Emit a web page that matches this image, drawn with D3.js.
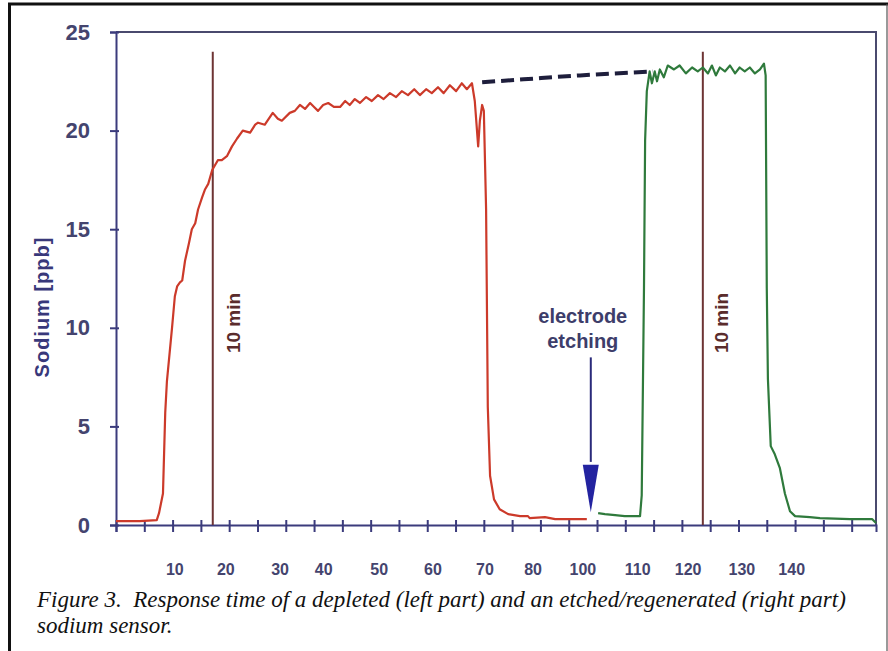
<!DOCTYPE html>
<html>
<head>
<meta charset="utf-8">
<script src="https://cdn.jsdelivr.net/npm/d3@7/dist/d3.min.js"></script>
<style>
  body { margin: 0; background: #fff; }
  svg { display: block; }
</style>
</head>
<body>
<div class="chart"></div>
<script>
// size
var w = 888;
var h = 651;

// axis values
const xTicks = d3.range(0, 131, 5);
const xLabels = ["10", "20", "30", "40", "50", "60", "70", "80", "100", "110", "120", "130", "140"];
const xLabelAt = [10.4, 19.4, 29.0, 36.7, 46.5, 56.0, 65.2, 73.7, 82.5, 92.2, 101.1, 110.6, 119.4];
const yTicks = [0, 5, 10, 15, 20, 25];

// depleted sensor (red) [time, ppb]
const depleted = [
  [0, 0.2], [4.2, 0.2], [7.2, 0.25], [7.6, 0.6], [8.3, 1.6], [8.7, 5.7], [9.0, 7.3],
  [9.9, 10.0], [10.4, 11.6], [10.8, 12.1], [11.3, 12.3], [11.7, 12.4], [12.2, 13.4],
  [12.9, 14.3], [13.4, 15.0], [14.0, 15.3], [14.5, 16.0], [15.2, 16.6], [15.7, 17.0],
  [16.3, 17.3], [17.0, 18.0], [18.0, 18.5], [18.7, 18.5], [19.6, 18.7], [20.5, 19.2],
  [21.4, 19.6], [22.4, 20.0], [23.7, 19.9], [24.6, 20.3], [25.1, 20.4], [26.3, 20.3],
  [27.7, 20.9], [28.6, 20.6], [29.3, 20.5], [30.7, 20.9], [31.6, 21.0], [32.5, 21.3],
  [33.4, 21.1], [34.3, 21.4], [35.0, 21.2], [35.7, 21.0], [36.6, 21.3], [37.5, 21.4],
  [38.5, 21.2], [39.6, 21.2], [40.5, 21.5], [41.3, 21.3], [42.2, 21.6], [43.1, 21.4],
  [44.2, 21.7], [45.2, 21.5], [46.3, 21.8], [47.3, 21.6], [48.4, 21.9], [49.5, 21.7],
  [50.5, 22.0], [51.6, 21.8], [52.7, 22.1], [53.7, 21.8], [54.8, 22.1], [55.8, 21.9],
  [56.9, 22.2], [57.9, 21.9], [59.0, 22.3], [60.1, 22.0], [61.1, 22.4], [62.0, 22.1],
  [62.9, 22.4], [63.4, 21.5], [64.0, 19.2], [64.3, 20.5], [64.7, 21.3], [65.0, 21.0],
  [65.4, 16.0], [65.7, 6.0], [66.1, 2.5], [66.8, 1.3], [67.8, 0.8], [69.3, 0.55],
  [71.4, 0.45], [72.8, 0.45], [73.1, 0.35], [75.8, 0.4], [77.6, 0.3], [80.2, 0.3], [83.2, 0.3]
];

// dashed link between both plateaus
const bridge = [[64.7, 22.45], [72, 22.6], [82, 22.8], [94.9, 23.0]];

// etched / regenerated sensor (green)
const regenerated = [
  [85.2, 0.6], [86.4, 0.55], [88.2, 0.5], [89.9, 0.45], [92.6, 0.45], [92.9, 1.5],
  [93.3, 12], [93.5, 19.5], [93.8, 22.0], [94.3, 23.0], [94.7, 22.4], [95.2, 23.0],
  [95.6, 22.5], [96.1, 23.1], [96.8, 22.7], [97.5, 23.3], [98.6, 23.1], [99.6, 23.3],
  [100.7, 22.9], [101.8, 23.2], [102.8, 23.0], [103.7, 23.2], [104.6, 22.9], [105.3, 23.3],
  [106.0, 22.8], [106.7, 23.2], [107.6, 23.0], [108.5, 23.3], [109.4, 22.9], [110.2, 23.2],
  [111.1, 23.0], [112.0, 23.2], [112.9, 22.9], [113.8, 23.1], [114.5, 23.4], [114.8, 22.8],
  [115.0, 12], [115.2, 7.4], [115.7, 4.0], [116.4, 3.6], [117.3, 2.9], [118.2, 1.6],
  [119.1, 0.7], [120.0, 0.45], [122.6, 0.4], [124.4, 0.35], [129.7, 0.3], [133.6, 0.3], [134.3, 0.1]
];

// "10 min" markers and the etching arrow
const markers = [17.1, 103.7];
const markerTop = 24;
const etchingAt = 83.9;
const arrowFrom = 8.5;
const arrowTo = 0.65;

const caption = [
  "Figure 3.  Response time of a depleted (left part) and an etched/regenerated (right part)",
  "sodium sensor."
];

const axisCol = "#44446e";
const textCol = "#3d3d6a";
const markCol = "#6e3434";

var svg = d3.select(".chart")
  .append("svg")
  .attr("width", w)
  .attr("height", h);

// outer frame of the scanned figure
svg.append("line").attr("x1", 8).attr("x2", w).attr("y1", 4).attr("y2", 4)
  .attr("stroke", "#111").attr("stroke-width", 3);
svg.append("line").attr("x1", 9.5).attr("x2", 9.5).attr("y1", 3).attr("y2", h)
  .attr("stroke", "#111").attr("stroke-width", 3);
svg.append("line").attr("x1", 887).attr("x2", 887).attr("y1", 4).attr("y2", h)
  .attr("stroke", "#555").attr("stroke-width", 1.2);

const x = d3.scaleLinear().domain([0, 134.3]).range([116, 876]);
const y = d3.scaleLinear().domain([0, 25]).range([525, 32]);

// plot box (top and right sides)
svg.append("path")
  .attr("d", `M${x(0)},${y(25)}H${x(134.3)}V${y(0)}`)
  .attr("fill", "none")
  .attr("stroke", "#4a4a6e")
  .attr("stroke-width", 2);

// y axis
const yAxis = svg.append("g")
  .attr("transform", `translate(${x(0)},0)`)
  .call(d3.axisLeft(y).tickValues(yTicks).tickSize(6).tickPadding(20));
yAxis.select(".domain").attr("stroke", "#3b3b7c").attr("stroke-width", 2);
yAxis.selectAll(".tick line").attr("x1", 3).attr("stroke", "#3b3b7c").attr("stroke-width", 2);
yAxis.selectAll(".tick text")
  .attr("fill", axisCol)
  .style("font", "bold 22px 'Liberation Sans', Arial, sans-serif");

// x axis (ticks only, labels placed as printed)
const xAxis = svg.append("g")
  .attr("transform", `translate(0,${y(0)})`)
  .call(d3.axisBottom(x).tickValues(xTicks).tickSize(7).tickFormat(""));
xAxis.select(".domain").attr("stroke", "#3b3b7c").attr("stroke-width", 2);
xAxis.selectAll(".tick line").attr("y1", -5).attr("stroke", "#3b3b7c").attr("stroke-width", 2);

svg.append("g")
  .selectAll("text")
  .data(xLabels)
  .enter()
  .append("text")
  .attr("x", (d, i) => x(xLabelAt[i]))
  .attr("y", 575)
  .attr("text-anchor", "middle")
  .attr("fill", axisCol)
  .style("font", "bold 16px 'Liberation Sans', Arial, sans-serif")
  .text(d => d);

// y title
svg.append("text")
  .attr("transform", "translate(49,307) rotate(-90)")
  .attr("text-anchor", "middle")
  .attr("fill", "#38387a")
  .style("font", "bold 20px 'Liberation Sans', Arial, sans-serif")
  .style("letter-spacing", "1px")
  .text("Sodium [ppb]");

// "10 min" lines
svg.selectAll(".marker")
  .data(markers)
  .enter()
  .append("line")
  .attr("class", "marker")
  .attr("x1", d => x(d)).attr("x2", d => x(d))
  .attr("y1", y(markerTop)).attr("y2", y(0))
  .attr("stroke", markCol)
  .attr("stroke-width", 2);

svg.selectAll(".marker-label")
  .data(markers)
  .enter()
  .append("text")
  .attr("class", "marker-label")
  .attr("transform", (d, i) => `translate(${x(d) + (i === 0 ? 27 : 25)},323) rotate(-90)`)
  .attr("text-anchor", "middle")
  .attr("fill", "#5a2c2c")
  .style("font", "bold 19px 'Liberation Sans', Arial, sans-serif")
  .text("10 min");

// curves
const line = d3.line().x(d => x(d[0])).y(d => y(d[1]));

svg.append("path")
  .datum(depleted)
  .attr("d", line)
  .attr("fill", "none")
  .attr("stroke", "#cc3a2a")
  .attr("stroke-width", 2.2)
  .attr("stroke-linejoin", "round");

svg.append("path")
  .datum(bridge)
  .attr("d", line.curve(d3.curveMonotoneX))
  .attr("fill", "none")
  .attr("stroke", "#1e1e3c")
  .attr("stroke-width", 4)
  .attr("stroke-dasharray", "13,6");

line.curve(d3.curveLinear);
svg.append("path")
  .datum(regenerated)
  .attr("d", line)
  .attr("fill", "none")
  .attr("stroke", "#2f7a3c")
  .attr("stroke-width", 2.2)
  .attr("stroke-linejoin", "round");

// etching arrow
svg.append("line")
  .attr("x1", x(etchingAt)).attr("x2", x(etchingAt))
  .attr("y1", y(arrowFrom)).attr("y2", y(3.2))
  .attr("stroke", "#2a2a7a")
  .attr("stroke-width", 2);
svg.append("path")
  .attr("d", `M${x(etchingAt) - 8},${y(3.05)}L${x(etchingAt) + 8},${y(3.05)}L${x(etchingAt)},${y(arrowTo)}Z`)
  .attr("fill", "#2323a0");

svg.append("g")
  .selectAll("text")
  .data(["electrode", "etching"])
  .enter()
  .append("text")
  .attr("x", x(etchingAt) - 8)
  .attr("y", (d, i) => 323 + i * 25)
  .attr("text-anchor", "middle")
  .attr("fill", textCol)
  .style("font", "bold 20px 'Liberation Sans', Arial, sans-serif")
  .text(d => d);

// caption
svg.append("g")
  .selectAll("text")
  .data(caption)
  .enter()
  .append("text")
  .attr("x", 37)
  .attr("y", (d, i) => 607 + i * 26)
  .attr("fill", "#111")
  .style("white-space", "pre")
  .style("font", "italic 23px 'Liberation Serif', 'Times New Roman', serif")
  .text(d => d);
</script>
</body>
</html>
